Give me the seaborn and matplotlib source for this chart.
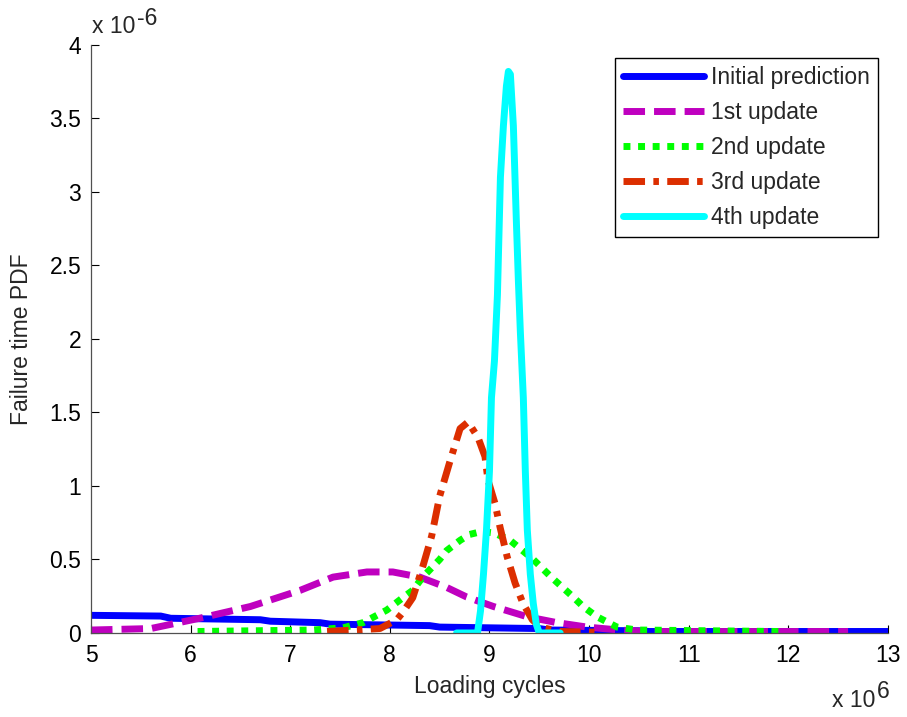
import matplotlib

matplotlib.use("Agg")
import matplotlib.pyplot as plt
import pandas as pd
import seaborn as sns

series_names = ["Initial prediction", "1st update", "2nd update", "3rd update", "4th update"]
series_colors = ["#0000FF", "#BF00BF", "#00FF00", "#DC2E00", "#00FFFF"]
series_dashes = ["", (3.1, 1.3), (1.0, 1.1), (3.1, 1.2, 0.8, 1.2), ""]

# loading cycles (x 10^6) and failure time PDF (x 10^-6)
initial_x = [5.0, 5.7, 5.8, 6.7, 6.8, 7.3, 7.4, 8.4, 8.5, 9.5, 9.6, 10.5, 10.6, 13.0]
initial_y = [0.12, 0.115, 0.1, 0.09, 0.08, 0.07, 0.06, 0.05, 0.04, 0.03, 0.02, 0.015, 0.01, 0.01]

upd1_x = [5.0, 5.6, 6.09, 6.6, 7.1, 7.43, 7.77, 8.03, 8.30, 8.57, 8.77, 9.04, 9.38, 9.68, 9.98, 10.3, 10.6, 12.6]
upd1_y = [0.02, 0.03, 0.10, 0.18, 0.29, 0.38, 0.415, 0.415, 0.38, 0.31, 0.245, 0.18, 0.11, 0.07, 0.04, 0.02, 0.01, 0.01]

upd2_x = [6.07, 7.23, 7.53, 7.73, 7.97, 8.13, 8.23, 8.33, 8.50, 8.57, 8.705, 8.8, 8.92, 9.05, 9.207,
          9.44, 9.62, 9.84, 9.94, 10.08, 10.28, 10.48, 11.9]
upd2_y = [0.01, 0.02, 0.035, 0.07, 0.156, 0.24, 0.29, 0.38, 0.50, 0.56, 0.63, 0.67, 0.69, 0.68, 0.63,
          0.50, 0.38, 0.245, 0.18, 0.11, 0.04, 0.02, 0.01]

upd3_x = [7.37, 7.9, 8.07, 8.13, 8.23, 8.33, 8.42, 8.50, 8.60, 8.705, 8.785, 8.885, 8.955, 8.985,
          9.056, 9.106, 9.177, 9.257, 9.337, 9.43, 9.51, 9.7, 10.08]
upd3_y = [0.01, 0.03, 0.09, 0.14, 0.24, 0.45, 0.66, 0.93, 1.16, 1.39, 1.435, 1.33, 1.20, 1.04,
          0.88, 0.72, 0.52, 0.34, 0.20, 0.09, 0.04, 0.01, 0.005]

upd4_x = [8.67, 8.88, 8.91, 8.94, 8.97, 9.00, 9.02, 9.05, 9.08, 9.11, 9.14, 9.17, 9.19, 9.21, 9.24,
          9.27, 9.29, 9.31, 9.34, 9.36, 9.38, 9.41, 9.44, 9.47, 9.50, 9.71]
upd4_y = [0.0, 0.0, 0.15, 0.4, 0.7, 1.1, 1.6, 1.85, 2.3, 3.1, 3.45, 3.72, 3.82, 3.8, 3.45,
          2.8, 2.4, 2.05, 1.6, 1.1, 0.7, 0.4, 0.2, 0.06, 0.0, 0.0]

x_ticks = [5, 6, 7, 8, 9, 10, 11, 12, 13]
y_ticks = [0, 0.5, 1, 1.5, 2, 2.5, 3, 3.5, 4]
y_tick_labels = ["0", "0.5", "1", "1.5", "2", "2.5", "3", "3.5", "4"]


def build_frame():
    parts = []
    all_x = [initial_x, upd1_x, upd2_x, upd3_x, upd4_x]
    all_y = [initial_y, upd1_y, upd2_y, upd3_y, upd4_y]
    for name, xs, ys in zip(series_names, all_x, all_y):
        parts.append(pd.DataFrame({"cycles": xs, "pdf": ys, "series": name}))
    return pd.concat(parts, ignore_index=True)


def main():
    sns.set_style("ticks")
    plt.rcParams["font.family"] = ["Liberation Sans", "DejaVu Sans"]
    plt.rcParams["font.size"] = 16.5

    df = build_frame()
    fig = plt.figure(figsize=(9.07, 7.17), dpi=100)
    ax = fig.add_axes([0.1003, 0.1172, 0.8787, 0.8201])

    sns.lineplot(
        data=df,
        x="cycles",
        y="pdf",
        hue="series",
        style="series",
        hue_order=series_names,
        style_order=series_names,
        palette=dict(zip(series_names, series_colors)),
        dashes=dict(zip(series_names, series_dashes)),
        estimator=None,
        sort=False,
        linewidth=5,
        ax=ax,
    )

    ax.set_xlim(5, 13)
    ax.set_ylim(0, 4)
    ax.set_xticks(x_ticks)
    ax.set_yticks(y_ticks, labels=y_tick_labels)
    ax.tick_params(direction="in", length=6, width=0.8, labelsize=16.5, colors="black")
    ax.tick_params(axis="x", pad=8)
    ax.tick_params(axis="y", pad=7)
    ax.set_xlabel("Loading cycles", fontsize=16.5, labelpad=6)
    ax.set_ylabel("Failure time PDF", fontsize=16.5, labelpad=12)
    sns.despine(ax=ax)
    for side in ["left", "bottom"]:
        ax.spines[side].set_color("#505050")
        ax.spines[side].set_linewidth(0.9)

    leg = ax.legend(
        loc="upper right",
        bbox_to_anchor=(0.9875, 0.978),
        borderaxespad=0,
        frameon=True,
        fancybox=False,
        edgecolor="black",
        framealpha=1,
        fontsize=16.5,
        handlelength=3.55,
        handletextpad=0.3,
        labelspacing=0.52,
        borderpad=0.35,
        title=None,
    )
    leg.get_frame().set_linewidth(1.0)

    # MATLAB-style exponent labels
    fig.text(92 / 907, 1 - 33 / 717, "x 10", fontsize=16.5, ha="left", va="baseline")
    fig.text(137 / 907, 1 - 25 / 717, "-6", fontsize=16.5, ha="left", va="baseline")
    fig.text(875 / 907, 1 - 707 / 717, "x 10", fontsize=16.5, ha="right", va="baseline")
    fig.text(877 / 907, 1 - 698 / 717, "6", fontsize=16.5, ha="left", va="baseline")

    fig.savefig("out.png", dpi=100)
    plt.close(fig)


if __name__ == "__main__":
    main()
